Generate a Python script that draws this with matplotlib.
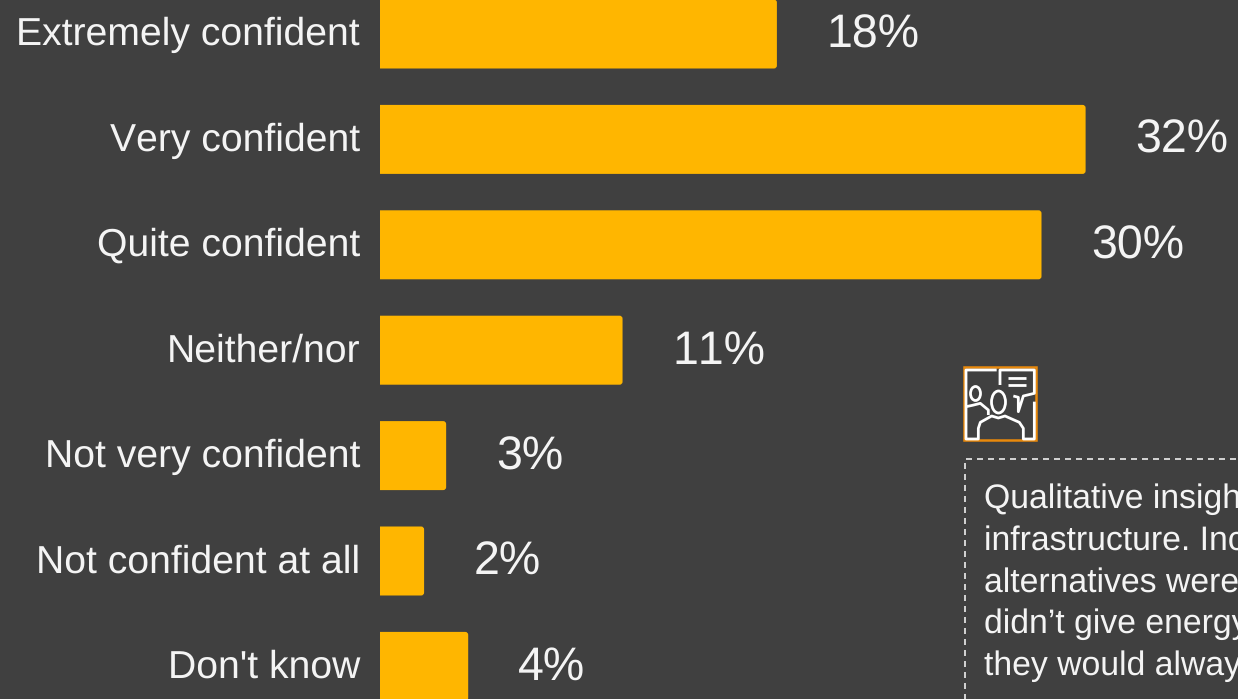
import matplotlib
matplotlib.use('Agg')
import matplotlib.pyplot as plt
from matplotlib.patches import Ellipse, FancyBboxPatch, Rectangle

categories = ['Extremely confident', 'Very confident', 'Quite confident', 'Neither/nor',
              'Not very confident', 'Not confident at all', "Don't know"]
values = [18, 32, 30, 11, 3, 2, 4]
note_lines = ['Qualitative insight', 'infrastructure. Inc', 'alternatives were',
              'didn’t give energy', 'they would always']

BG = '#404040'
BAR = '#FFB600'
TXT = '#F4F4F4'
W, H = 1238, 699

plt.rcParams['font.family'] = ['Liberation Sans', 'DejaVu Sans']
plt.rcParams['text.hinting'] = 'no_hinting'
plt.rcParams['text.kerning_factor'] = 6

fig = plt.figure(figsize=(W / 100, H / 100), dpi=100, facecolor=BG)

# bar chart fills the whole figure, about 22 px per percent, 105.4 px per row
ax = fig.add_axes([0, 0, 1, 1], facecolor='none')
px_per_pct = 22.05
px_per_row = 105.4
origin = 380
ax.set_xlim(-origin / px_per_pct, (W - origin) / px_per_pct)
ax.set_ylim((H - 34) / px_per_row, -34 / px_per_row)
ax.axis('off')

# rounded on the right only: the left corners are clipped away at zero
bar_h = 69 / px_per_row
radius = 3 / px_per_pct
clip = Rectangle((0, -1), 40, 10, transform=ax.transData)
for i, val in enumerate(values):
    bar = FancyBboxPatch((-radius * 2, i - bar_h / 2), val + radius * 2, bar_h,
                         boxstyle=f'round,pad=0,rounding_size={radius}',
                         mutation_aspect=px_per_pct / px_per_row,
                         facecolor=BAR, edgecolor='none')
    ax.add_patch(bar)
    bar.set_clip_path(clip)

for i, (cat, val) in enumerate(zip(categories, values)):
    ax.annotate(cat, (0, i), xytext=(-20 * 0.72, -0.8), textcoords='offset points',
                ha='right', va='center', fontsize=28.2, color=TXT)
    ax.annotate(f'{val}%', (val, i), xytext=(50 * 0.72, -1), textcoords='offset points',
                ha='left', va='center', fontsize=33.5, color=TXT)

# overlay in pixel coordinates for the note box and icon
ov = fig.add_axes([0, 0, 1, 1], facecolor='none')
ov.set_xlim(0, W)
ov.set_ylim(H, 0)
ov.axis('off')

ov.plot([965, 965, W + 5], [H + 5, 458.5, 458.5], color='#EDEDED', lw=1.2,
        linestyle=(0, (3.6, 3)))
for i, line in enumerate(note_lines):
    ov.text(984, 499 + i * 41.7, line, fontsize=24.3, color=TXT, ha='left', va='center')

# icon: orange frame with two people and a speech bubble
ov.add_patch(Rectangle((963.5, 366.5), 72.5, 73.5, fill=False, edgecolor='#E8890C', lw=1.8))


def z(pts):
    return [955 + p[0] / 3 for p in pts], [360 + p[1] / 3 for p in pts]


icon_paths = [
    [(125, 30), (33, 30), (33, 237), (70, 237), (70, 205), (76, 187), (110, 168), (130, 174),
     (150, 168), (193, 187), (205, 205), (205, 237), (238, 237), (238, 125)],
    [(135, 75), (135, 30), (238, 30), (238, 100), (205, 108), (190, 155), (190, 112), (175, 108)],
    [(33, 140), (52, 136), (76, 130), (100, 150), (100, 165)],
    [(160, 55), (213, 55)],
    [(160, 76), (213, 76)],
]
for p in icon_paths:
    xs, ys = z(p)
    ov.plot(xs, ys, color='white', lw=2, solid_joinstyle='round', solid_capstyle='butt')
ov.add_patch(Ellipse((975.5, 393.5), 10, 14, fill=False, edgecolor='white', lw=2))
ov.add_patch(Ellipse((998.5, 402), 14, 22, fill=False, edgecolor='white', lw=2))

fig.savefig('out.png', dpi=100, facecolor=BG)
